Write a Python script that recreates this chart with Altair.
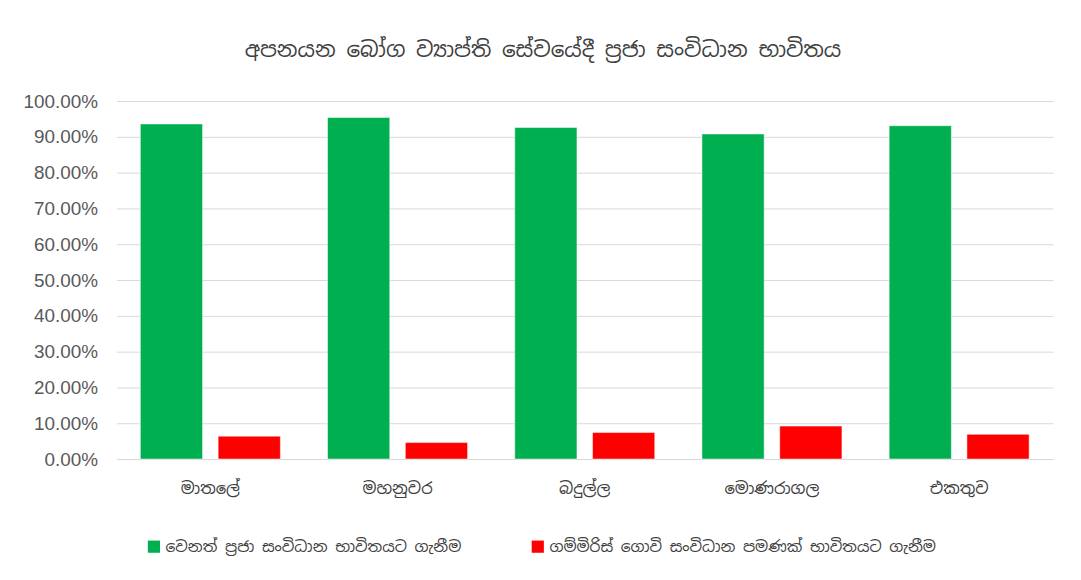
import altair as alt
import pandas as pd

title = "අපනයන බෝග ව්‍යාප්ති සේවයේදී ප්‍රජා සංවිධාන භාවිතය"
categories = ["මාතලේ", "මහනුවර", "බදුල්ල", "මොණරාගල", "එකතුව"]
series = ["වෙනත් ප්‍රජා සංවිධාන භාවිතයට ගැනීම",
          "ගම්මිරිස් ගොවි සංවිධාන පමණක් භාවිතයට ගැනීම"]
other_orgs = [0.936, 0.954, 0.926, 0.908, 0.931]
pepper_only = [0.064, 0.046, 0.074, 0.092, 0.069]
colors = ["#00B050", "#FF0000"]
y_ticks = [0.0, 0.1, 0.2, 0.3, 0.4, 0.5, 0.6, 0.7, 0.8, 0.9, 1.0]

rows = []
for c, a, b in zip(categories, other_orgs, pepper_only):
    rows.append({"cat": c, "series": series[0], "value": a})
    rows.append({"cat": c, "series": series[1], "value": b})
df = pd.DataFrame(rows)

FONT = "Noto Sans Sinhala, Iskoola Pota, Noto Sans, sans-serif"

chart = alt.Chart(df).mark_bar(stroke="white", strokeWidth=0.5).encode(
    x=alt.X("cat:N", sort=categories, title=None,
            scale=alt.Scale(paddingInner=0.252, paddingOuter=0.128),
            axis=alt.Axis(labelAngle=0, labelFontSize=16.5, labelColor="#404040",
                          labelFont=FONT, ticks=False, domainColor="#d9d9d9",
                          labelPadding=22, labelLimit=0)),
    xOffset=alt.XOffset("series:N", sort=series,
                        scale=alt.Scale(paddingInner=0.2)),
    y=alt.Y("value:Q", title=None,
            scale=alt.Scale(domain=[0, 1]),
            axis=alt.Axis(format=".2%", values=y_ticks, labelOverlap=False,
                          labelFontSize=19, labelColor="#595959",
                          labelFont="Liberation Sans, Arial, sans-serif",
                          ticks=False, domain=False, gridColor="#d9d9d9",
                          labelPadding=19)),
    color=alt.Color("series:N", sort=series,
                    scale=alt.Scale(domain=series, range=colors),
                    legend=alt.Legend(title=None, orient="none", direction="horizontal",
                                      legendX=30, legendY=440,
                                      symbolType="square", symbolSize=150,
                                      symbolStrokeWidth=0,
                                      labelFontSize=15.5, labelColor="#404040",
                                      labelFont=FONT, columnPadding=69,
                                      labelLimit=0)),
).properties(
    width=942, height=360,
    title=alt.TitleParams(title, fontSize=21.6, font=FONT, fontWeight="normal",
                          color="#404040", anchor="middle", dx=-42, offset=31),
    padding={"left": 109, "top": 92, "right": 20, "bottom": 110},
    autosize=alt.AutoSizeParams(type="none"),
).configure_view(stroke=None)

chart.save("out.html", embed_options={"renderer": "svg", "actions": False})
